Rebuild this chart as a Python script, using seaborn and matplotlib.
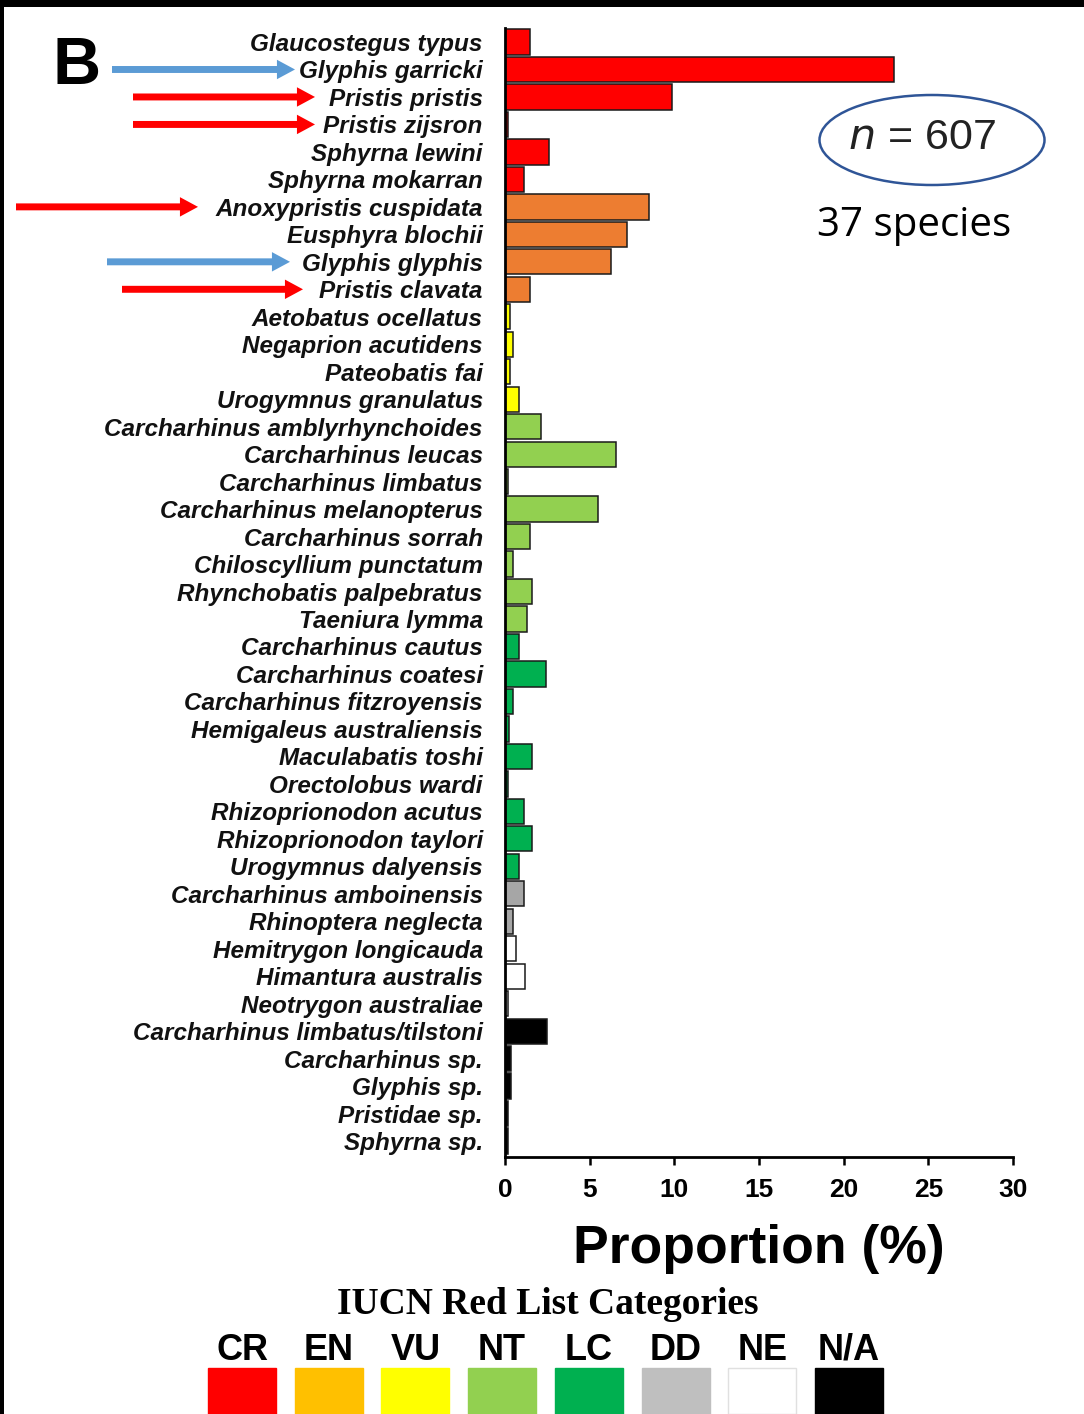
import matplotlib
matplotlib.use("Agg")
import matplotlib.pyplot as plt
import matplotlib.patches as mpatches
import matplotlib.transforms as mtransforms
import seaborn as sns
import pandas as pd

species = [
    "Glaucostegus typus", "Glyphis garricki", "Pristis pristis", "Pristis zijsron",
    "Sphyrna lewini", "Sphyrna mokarran", "Anoxypristis cuspidata", "Eusphyra blochii",
    "Glyphis glyphis", "Pristis clavata", "Aetobatus ocellatus", "Negaprion acutidens",
    "Pateobatis fai", "Urogymnus granulatus", "Carcharhinus amblyrhynchoides",
    "Carcharhinus leucas", "Carcharhinus limbatus", "Carcharhinus melanopterus",
    "Carcharhinus sorrah", "Chiloscyllium punctatum", "Rhynchobatis palpebratus",
    "Taeniura lymma", "Carcharhinus cautus", "Carcharhinus coatesi",
    "Carcharhinus fitzroyensis", "Hemigaleus australiensis", "Maculabatis toshi",
    "Orectolobus wardi", "Rhizoprionodon acutus", "Rhizoprionodon taylori",
    "Urogymnus dalyensis", "Carcharhinus amboinensis", "Rhinoptera neglecta",
    "Hemitrygon longicauda", "Himantura australis", "Neotrygon australiae",
    "Carcharhinus limbatus/tilstoni", "Carcharhinus sp.", "Glyphis sp.",
    "Pristidae sp.", "Sphyrna sp.",
]
proportion = [
    1.5, 23.0, 9.85, 0.15, 2.6, 1.1,
    8.5, 7.2, 6.25, 1.5,
    0.3, 0.5, 0.3, 0.8,
    2.1, 6.55, 0.15, 5.5, 1.5, 0.45, 1.6, 1.3,
    0.8, 2.45, 0.45, 0.25, 1.6, 0.15, 1.15, 1.6, 0.8,
    1.15, 0.5,
    0.65, 1.2, 0.15,
    2.5, 0.35, 0.35, 0.15, 0.15,
]
category = (["CR"] * 6 + ["EN"] * 4 + ["VU"] * 4 + ["NT"] * 8 + ["LC"] * 9
            + ["DD"] * 2 + ["NE"] * 3 + ["N/A"] * 5)

legend_cats = ["CR", "EN", "VU", "NT", "LC", "DD", "NE", "N/A"]
bar_colors = ["#FF0000", "#ED7D31", "#FFFF00", "#92D050", "#00B050", "#A6A6A6", "#FFFFFF", "#000000"]
legend_colors = ["#FF0000", "#FFC000", "#FFFF00", "#92D050", "#00B050", "#BFBFBF", "#FFFFFF", "#000000"]

red_arrow_species = ["Pristis pristis", "Pristis zijsron", "Anoxypristis cuspidata", "Pristis clavata"]
blue_arrow_species = ["Glyphis garricki", "Glyphis glyphis"]

df = pd.DataFrame({"species": species, "proportion": proportion, "category": category})

W, H = 1084, 1414
sns.set_style("ticks")
plt.rcParams["font.family"] = ["Liberation Sans", "DejaVu Sans"]
plt.rcParams["text.color"] = "black"
plt.rcParams["xtick.color"] = "black"
plt.rcParams["ytick.color"] = "black"
plt.rcParams["axes.labelcolor"] = "black"

fig = plt.figure(figsize=(W / 100, H / 100), dpi=100)
fig.patch.set_facecolor("white")
ax = fig.add_axes([505 / W, 1 - 1157 / H, 508 / W, (1157 - 28) / H])

sns.barplot(data=df, y="species", x="proportion", hue="category",
            hue_order=legend_cats, palette=dict(zip(legend_cats, bar_colors)),
            order=species, dodge=False, width=0.92, orient="h", saturation=1,
            edgecolor="#1a1a1a", linewidth=1.1, legend=False, ax=ax)

ax.set_xlim(0, 30)
ax.set_ylim(40.58, -0.51)
ax.set_xticks([0, 5, 10, 15, 20, 25, 30])
ax.set_xticklabels(["0", "5", "10", "15", "20", "25", "30"])
ax.set_ylabel("")
ax.set_xlabel("Proportion (%)", fontsize=38.5, fontweight="bold", labelpad=16)
for s in ["top", "right"]:
    ax.spines[s].set_visible(False)
for s in ["left", "bottom"]:
    ax.spines[s].set_linewidth(2.0)
    ax.spines[s].set_color("black")
ax.tick_params(axis="y", length=0, pad=16)
ax.tick_params(axis="x", length=6, width=1.8, pad=9, labelsize=19)
for lab in ax.get_xticklabels():
    lab.set_fontweight("bold")
for lab in ax.get_yticklabels():
    lab.set_fontsize(17.5)
    lab.set_fontweight("bold")
    lab.set_fontstyle("italic")
    lab.set_color("#111111")

# panel letter
fig.text(77 / W, 1 - 67 / H, "B", fontsize=48, fontweight="bold", ha="center", va="center")

# arrows: x in figure pixels, y in data units
blend = mtransforms.blended_transform_factory(fig.transFigure, ax.transData)
arrow_x = {
    "Glyphis garricki": (112, 295), "Glyphis glyphis": (107, 290),
    "Pristis pristis": (133, 315), "Pristis zijsron": (133, 315),
    "Anoxypristis cuspidata": (16, 198), "Pristis clavata": (122, 303),
}
for name, col in [(n, "#5B9BD5") for n in blue_arrow_species] + [(n, "#FF0000") for n in red_arrow_species]:
    yi = species.index(name)
    x0, x1 = arrow_x[name]
    arr = mpatches.FancyArrowPatch(
        (x0 / W, yi), (x1 / W, yi), transform=blend,
        arrowstyle=mpatches.ArrowStyle.Simple(head_length=13, head_width=14, tail_width=5),
        mutation_scale=1, color=col, lw=0, clip_on=False, shrinkA=0, shrinkB=0)
    fig.patches.append(arr)

# n = 607 ellipse and text
ell = mpatches.Ellipse((932 / W, 1 - 140 / H), 225 / W, 90 / H, transform=fig.transFigure,
                       fill=False, edgecolor="#2F5597", linewidth=1.8)
fig.patches.append(ell)
fig.text(922 / W, 1 - 138 / H, r"$n$ = 607", fontsize=31, ha="center", va="center",
         color="#222222", family=["Liberation Sans", "DejaVu Sans"])
fig.text(914 / W, 1 - 226 / H, "37 species", fontsize=29, ha="center", va="center",
         family=["Open Sans", "DejaVu Sans"])

# IUCN legend
fig.text(548 / W, 1 - 1305 / H, "IUCN Red List Categories", fontsize=27, fontweight="bold",
         ha="center", va="center", family=["Liberation Serif", "DejaVu Serif"])
for i, (cat, colr) in enumerate(zip(legend_cats, legend_colors)):
    cx = 242 + i * 86.7
    fig.text(cx / W, 1 - 1350 / H, cat, fontsize=26, fontweight="bold", ha="center",
             va="center", family=["Liberation Sans", "DejaVu Sans"])
    rect = mpatches.Rectangle(((cx - 34) / W, 0), 68 / W, (H - 1368) / H,
                              transform=fig.transFigure, facecolor=colr,
                              edgecolor="#E0E0E0" if cat == "NE" else colr, linewidth=1)
    fig.patches.append(rect)

# black frame edges
fig.patches.append(mpatches.Rectangle((0, 1 - 7 / H), 1, 7 / H, transform=fig.transFigure,
                                      facecolor="black", edgecolor="none"))
fig.patches.append(mpatches.Rectangle((0, 0), 4 / W, 1, transform=fig.transFigure,
                                      facecolor="black", edgecolor="none"))

fig.savefig("out.png", dpi=100, facecolor="white")
